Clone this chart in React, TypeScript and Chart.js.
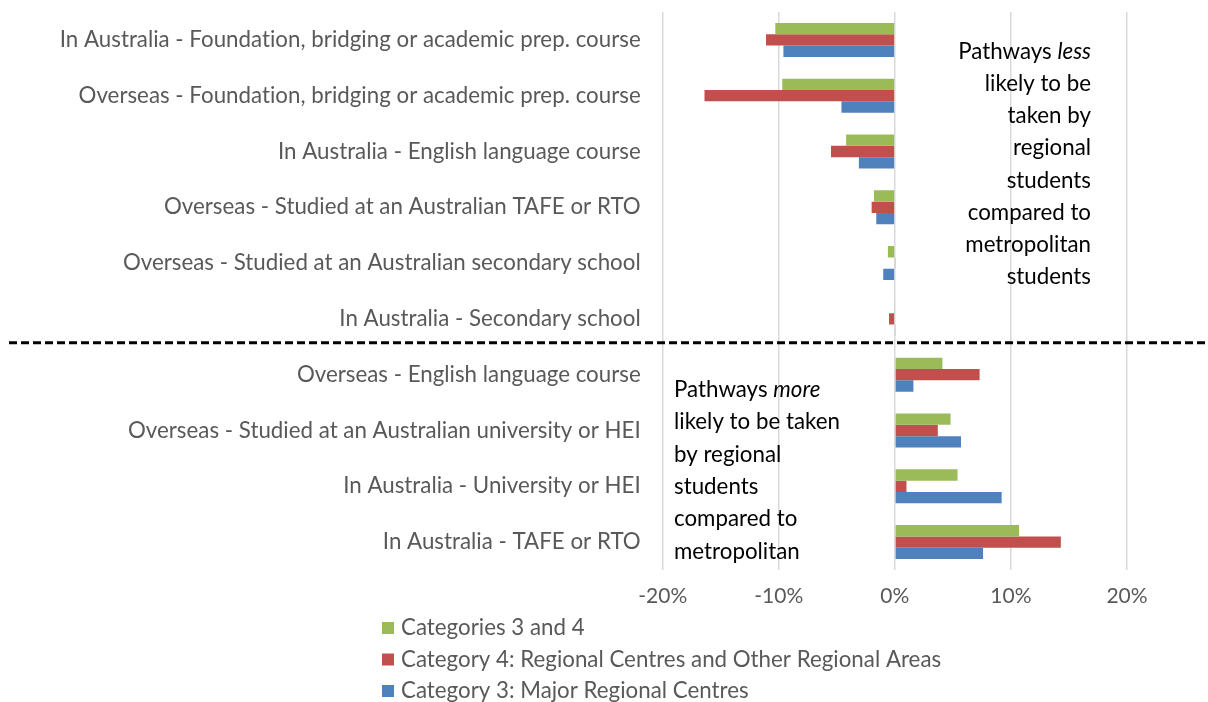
import React, { useEffect, useRef } from "react";
import { Chart, registerables } from "chart.js";

Chart.register(...registerables);

const categories = [
  "In Australia - Foundation, bridging or academic prep. course",
  "Overseas - Foundation, bridging or academic prep. course",
  "In Australia - English language course",
  "Overseas - Studied at an Australian TAFE or RTO",
  "Overseas - Studied at an Australian secondary school",
  "In Australia - Secondary school",
  "Overseas - English language course",
  "Overseas - Studied at an Australian university or HEI",
  "In Australia - University or HEI",
  "In Australia - TAFE or RTO",
];

const seriesNames = [
  "Categories 3 and 4",
  "Category 4: Regional Centres and Other Regional Areas",
  "Category 3: Major Regional Centres",
];

const categories34 = [-10.3, -9.7, -4.2, -1.8, -0.6, -0.05, 4.1, 4.8, 5.4, 10.7];
const category4 = [-11.1, -16.4, -5.5, -2.0, 0.05, -0.5, 7.3, 3.7, 1.0, 14.3];
const category3 = [-9.6, -4.6, -3.1, -1.6, -1.0, 0.05, 1.6, 5.7, 9.2, 7.6];

const seriesColors = ["#9BBB59", "#C0504D", "#4F81BD"];

const xMin = -20;
const xMax = 20;
const xStep = 10;

const lessText = ["likely to be", "taken by", "regional", "students", "compared to", "metropolitan", "students"];
const moreText = ["likely to be taken", "by regional", "students", "compared to", "metropolitan"];

const FONT = "Lato, 'Open Sans', sans-serif";
const GREY = "#595959";
const FS = 22.3;

const spacingPlugin = {
  id: "spacing",
  beforeUpdate(chart: any) {
    chart.ctx.letterSpacing = "0.01px";
  },
  beforeDraw(chart: any) {
    chart.ctx.letterSpacing = "0.01px";
  },
};

const overlayPlugin = {
  id: "overlay",
  afterDraw(chart: any) {
    const ctx = chart.ctx as CanvasRenderingContext2D;
    const yScale = chart.scales.y;
    ctx.save();

    // dashed divider between the two groups
    const yDiv = (yScale.getPixelForValue(5) + yScale.getPixelForValue(6)) / 2 - 4;
    ctx.strokeStyle = "#000";
    ctx.lineWidth = 3;
    ctx.setLineDash([8, 4]);
    ctx.beginPath();
    ctx.moveTo(9, yDiv);
    ctx.lineTo(chart.width, yDiv);
    ctx.stroke();
    ctx.setLineDash([]);

    // upper annotation (right aligned)
    ctx.fillStyle = "#000";
    ctx.textBaseline = "middle";
    const normal = `${FS}px ${FONT}`;
    const italic = `italic ${FS}px ${FONT}`;
    const rightX = 1091;
    let y = 52;
    ctx.font = normal;
    const w1 = ctx.measureText("Pathways ").width;
    ctx.font = italic;
    const w2 = ctx.measureText("less").width;
    ctx.textAlign = "left";
    ctx.font = normal;
    ctx.fillText("Pathways ", rightX - w1 - w2, y);
    ctx.font = italic;
    ctx.fillText("less", rightX - w2, y);
    ctx.font = normal;
    ctx.textAlign = "right";
    lessText.forEach((t, i) => ctx.fillText(t, rightX, y + 32.1 * (i + 1)));

    // lower annotation (left aligned)
    const leftX = 674;
    y = 390;
    ctx.textAlign = "left";
    ctx.font = normal;
    ctx.fillText("Pathways ", leftX, y);
    const wp = ctx.measureText("Pathways ").width;
    ctx.font = italic;
    ctx.fillText("more", leftX + wp, y);
    ctx.font = normal;
    moreText.forEach((t, i) => ctx.fillText(t, leftX, y + 32.3 * (i + 1)));

    // legend (vertical list)
    ctx.font = normal;
    chart.data.datasets.forEach((ds: any, i: number) => {
      const cy = 628 + 31.5 * i;
      ctx.fillStyle = ds.backgroundColor;
      ctx.fillRect(382, cy - 6, 12, 12);
      ctx.fillStyle = GREY;
      ctx.textAlign = "left";
      ctx.fillText(ds.label, 401, cy);
    });

    ctx.restore();
  },
};

export default function App() {
  const ref = useRef<HTMLCanvasElement>(null);

  useEffect(() => {
    if (!ref.current) return;
    const chart = new Chart(ref.current, {
      type: "bar",
      data: {
        labels: categories,
        datasets: [
          { label: seriesNames[0], data: categories34, backgroundColor: seriesColors[0] },
          { label: seriesNames[1], data: category4, backgroundColor: seriesColors[1] },
          { label: seriesNames[2], data: category3, backgroundColor: seriesColors[2] },
        ],
      },
      options: {
        indexAxis: "y",
        responsive: false,
        animation: false,
        layout: { padding: { top: 12, right: 81, left: 0, bottom: 0 } },
        datasets: { bar: { categoryPercentage: 0.61, barPercentage: 1.0 } },
        plugins: { legend: { display: false }, tooltip: { enabled: false } },
        scales: {
          x: {
            min: xMin,
            max: xMax,
            ticks: {
              stepSize: xStep,
              callback: (v: any) => `${v}%`,
              color: GREY,
              font: { family: FONT, size: 21 },
              padding: 14,
            },
            grid: { color: "#D9D9D9", lineWidth: 1.5, drawTicks: false },
            border: { display: false },
            afterFit: (s: any) => {
              s.height = 132;
              s.paddingLeft = 0;
              s.paddingRight = 0;
            },
          },
          y: {
            ticks: {
              color: GREY,
              font: { family: FONT, size: FS },
              padding: 22,
              autoSkip: false,
            },
            grid: { display: false, drawTicks: false },
            border: { display: false },
            afterFit: (s: any) => {
              s.width = 662.7;
              s.paddingTop = 0;
              s.paddingBottom = 0;
            },
          },
        },
      },
      plugins: [spacingPlugin, overlayPlugin],
    } as any);
    return () => chart.destroy();
  }, []);

  return (
    <div style={{ position: "absolute", left: 0, top: 0, width: 1208, height: 702, background: "#fff" }}>
      <canvas ref={ref} width={1208} height={702} style={{ display: "block" }} />
    </div>
  );
}
